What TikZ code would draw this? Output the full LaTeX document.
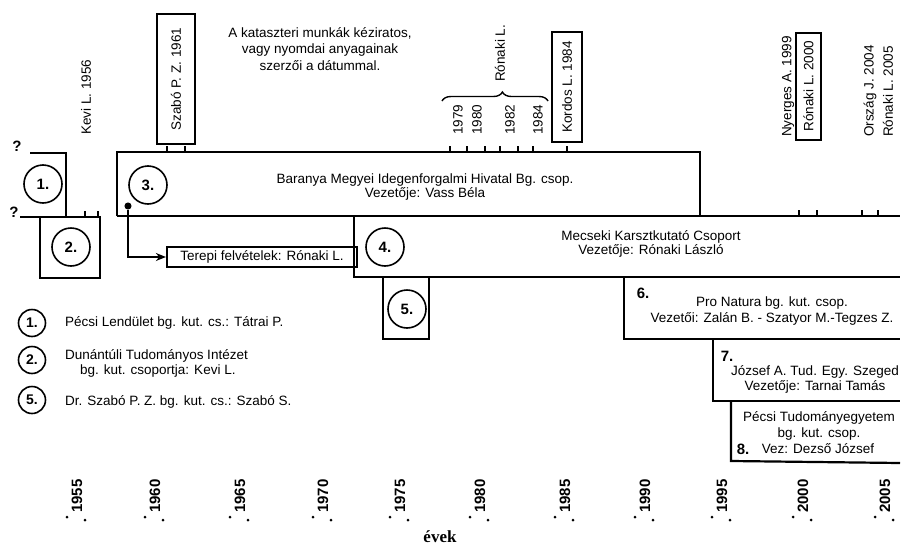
\documentclass[tikz,border=0pt]{standalone}
\usepackage{fontspec}
\setmainfont{Liberation Sans}
\newfontfamily\evekfont{Liberation Serif}
\usetikzlibrary{arrows.meta,decorations.pathreplacing}
\begin{document}
\begin{tikzpicture}[x=1pt,y=-1pt,line join=miter,
  tl/.style={line width=2.2pt},
  tick/.style={line width=1.4pt},
  txt/.style={font=\fontsize{13.5}{16}\selectfont,inner sep=0pt},
  vlab/.style={font=\fontsize{13.5}{16}\selectfont,rotate=90,anchor=west,inner sep=0pt},
  vbox/.style={draw,line width=2pt,rotate=90,inner sep=0pt,font=\fontsize{13.5}{16}\selectfont},
  num/.style={circle,draw,line width=1.6pt,minimum size=38pt,inner sep=0pt,font=\fontsize{15}{16}\bfseries\selectfont},
  lnum/.style={circle,draw,line width=1.6pt,minimum size=27pt,inner sep=0pt,font=\fontsize{14}{16}\bfseries\selectfont},
  bnum/.style={inner sep=0pt,font=\fontsize{15}{16}\bfseries\selectfont},
  yr/.style={font=\fontsize{15}{16}\bfseries\selectfont,rotate=90,anchor=west,inner sep=0pt},
  ydot/.style={circle,fill,inner sep=0pt,minimum size=3pt},
]
\useasboundingbox (0,0) rectangle (903,552);

% ---- question marks
\node[bnum] (q1) at (17,146) {?};
\node[bnum] (q2) at (14,212) {?};

% ---- box 1
\draw[tl] (30,153) -- (66,153) -- (66,217);
% ---- line and box 2
\draw[tl] (20,217) -- (100,217) -- (100,278) -- (40,278) -- (40,217);
% ---- box 3
\draw[tl] (117,216) -- (117,152) -- (700,152) -- (700,216);
\draw[tl] (117,216) -- (900,216);
% ---- box 4
\draw[tl] (354,216) -- (354,277) -- (900,277);
% ---- box 5
\draw[tl] (383,277) -- (383,339) -- (429,339) -- (429,277);
% ---- box 6
\draw[tl] (624,277) -- (624,339) -- (900,339);
% ---- box 7
\draw[tl] (713,339) -- (713,401) -- (900,401);
% ---- box 8
\draw[tl] (731,401) -- (731,461) -- (900,463);

% ---- ticks
\foreach \x in {167,185,450,467,485,500,518,533,567}
  \draw[tick] (\x,146) -- (\x,152);
\foreach \x in {85,98}
  \draw[tick] (\x,211) -- (\x,217);
\foreach \x in {799,817,862,878}
  \draw[tick] (\x,210) -- (\x,216);

% ---- circles
\node[num] (c1) at (43,184) {1.};
\node[num] (c2) at (71,247) {2.};
\node[num] (c3) at (148,185) {3.};
\node[num] (c4) at (385,247) {4.};
\node[num] (c5) at (407,309) {5.};

% ---- box texts
\node[txt] (t3a) at (425,180) {Baranya Megyei Idegenforgalmi Hivatal Bg. csop.};
\node[txt] (t3b) at (425,194) {Vezetője: Vass Béla};
\node[txt] (t4a) at (651,237) {Mecseki Karsztkutató Csoport};
\node[txt] (t4b) at (651,251) {Vezetője: Rónaki László};
\node[bnum] (n6) at (643,293) {6.};
\node[txt] (t6a) at (772,303) {Pro Natura bg. kut. csop.};
\node[txt] (t6b) at (772,319) {Vezetői: Zalán B. - Szatyor M.-Tegzes Z.};
\node[bnum] (n7) at (727,356) {7.};
\node[txt] (t7a) at (815,372) {József A. Tud. Egy. Szeged};
\node[txt] (t7b) at (815,387) {Vezetője: Tarnai Tamás};
\node[txt] (t8a) at (819,418) {Pécsi Tudományegyetem};
\node[txt] (t8b) at (819,434) {bg. kut. csop.};
\node[bnum] (n8) at (743,449) {8.};
\node[txt] (t8c) at (818,449) {Vez: Dezső József};

% ---- Terepi box and arrow
\node[draw,line width=2.2pt,minimum width=190pt,minimum height=20pt,inner sep=0pt,
  font=\fontsize{13.5}{16}\selectfont] (terepi) at (262,257) {Terepi felvételek: Rónaki L.};
\node[circle,draw,fill,line width=1pt,inner sep=0pt,minimum size=6pt] (dot) at (128,206) {};
\draw[line width=1.6pt,-{Stealth[length=10pt,width=8pt]}] (dot) |- (terepi.west);

% ---- top vertical labels
\node[vlab] (kevi) at (86,135) {Kevi L. 1956};
\node[vbox,minimum width=130pt,minimum height=38pt] (szabo) at (176,79) {Szabó P. Z. 1961};
\node[txt] (pa) at (320,33) {A kataszteri munkák kéziratos,};
\node[txt] (pb) at (320,50) {vagy nyomdai anyagainak};
\node[txt] (pc) at (320,66) {szerzői a dátummal.};
\node[vlab] (y79) at (458,135) {1979};
\node[vlab] (y80) at (477,135) {1980};
\node[vlab] (y82) at (510,135) {1982};
\node[vlab] (y84) at (538,135) {1984};
\coordinate (brl) at (442,101);
\coordinate (brr) at (548,101);
\draw[line width=1.4pt,decorate,decoration={brace,amplitude=9pt,aspect=0.57}] (brl) -- (brr);
\node[vlab] (ron) at (500,82) {Rónaki L.};
\node[vbox,minimum width=110pt,minimum height=30pt] (kordos) at (567,87) {Kordos L. 1984};
\node[vlab] (nyer) at (788,137) {Nyerges A. 1999};
\node[vbox,minimum width=107pt,minimum height=25pt] (ron2000) at (808.5,86) {Rónaki L. 2000};
\node[vlab] (orsz) at (870,137) {Ország J. 2004};
\node[vlab] (ron2005) at (888,137) {Rónaki L. 2005};

% ---- legend
\node[lnum] (l1) at (32,323) {1.};
\node[lnum] (l2) at (32,360) {2.};
\node[lnum] (l5) at (32,400) {5.};
\node[txt,anchor=west] (lt1) at (65,323) {Pécsi Lendület bg. kut. cs.: Tátrai P.};
\node[txt,anchor=west] (lt2a) at (65,356) {Dunántúli Tudományos Intézet};
\node[txt,anchor=west] (lt2b) at (80,371) {bg. kut. csoportja: Kevi L.};
\node[txt,anchor=west] (lt5) at (65,402) {Dr. Szabó P. Z. bg. kut. cs.: Szabó S.};

% ---- year axis
\foreach \x/\y in {77/1955,155/1960,240/1965,323/1970,400/1975,480/1980,565/1985,645/1990,722/1995,803/2000,885/2005}{
  \node[yr] (yr\y) at (\x,513) {\y};
  \node[ydot] (da\y) at (\x-10,517) {};
  \node[ydot] (db\y) at (\x+8,520) {};
}
\node[font=\evekfont\fontsize{17}{18}\bfseries\selectfont,inner sep=0pt] (evek) at (440,537) {évek};
\end{tikzpicture}
\end{document}
